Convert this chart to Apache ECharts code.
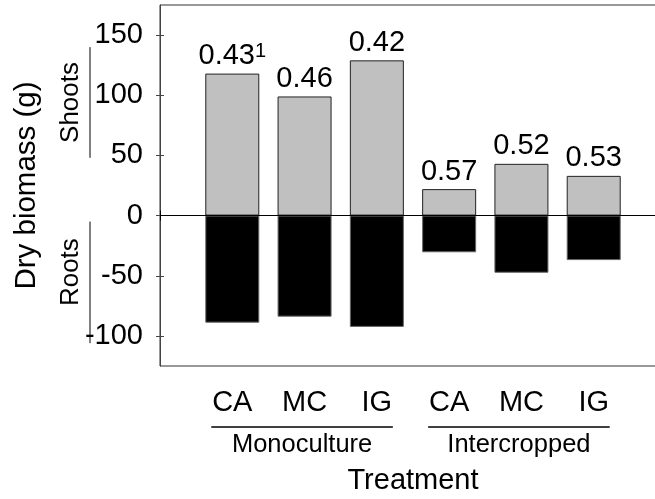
<!DOCTYPE html>
<html>
<head>
<meta charset="utf-8">
<script src="https://cdn.jsdelivr.net/npm/echarts@6/dist/echarts.min.js"></script>
<style>html,body{margin:0;padding:0;background:#fff}#c{width:655px;height:499px}</style>
</head>
<body>
<div id="c"></div>
<script>
const categories = ['CA', 'MC', 'IG', 'CA', 'MC', 'IG'];
const groups = ['Monoculture', 'Intercropped'];
const groupSize = 3;
const shoots = [118, 99, 129, 22, 43, 33];
const roots = [-89, -84, -92.5, -30.5, -47.5, -37];
const ratios = ['0.43', '0.46', '0.42', '0.57', '0.52', '0.53'];
const footnotes = ['1', '', '', '', '', ''];
const yTicks = [-100, -50, 0, 50, 100, 150];
const sideLabels = ['Shoots', 'Roots'];
const sideSpans = [[140, 48, 94], [-5, -106, -47]];

const FONT = 'Liberation Sans, Arial, sans-serif';
const chart = echarts.init(document.getElementById('c'));
const xData = [''].concat(categories, ['']);
const pad = a => [null].concat(a, [null]);

chart.setOption({
  animation: false,
  textStyle: { fontFamily: FONT },
  grid: { left: 160, top: 5, right: -11, bottom: 133, show: true, borderColor: '#333', borderWidth: 1,
          containLabel: false, outerBoundsMode: 'none' },
  xAxis: [{
    type: 'category', data: xData, boundaryGap: false,
    axisLine: { show: true, lineStyle: { color: '#000', width: 1 } },
    axisTick: { show: true, length: 5, interval: 0, lineStyle: { color: '#000' } },
    axisLabel: { interval: 0, fontSize: 29, color: '#000', margin: 22, fontFamily: FONT },
    splitLine: { show: false },
    name: 'Treatment', nameLocation: 'middle', nameGap: 100,
    nameTextStyle: { fontSize: 29, color: '#000', fontFamily: FONT }
  }, {
    type: 'category', data: xData, boundaryGap: false, position: 'bottom',
    axisLine: { show: false },
    axisTick: { show: true, inside: true, length: 5, interval: 0, lineStyle: { color: '#000' } },
    axisLabel: { show: false }, splitLine: { show: false }
  }],
  yAxis: [{
    type: 'value', min: -125, max: 175,
    axisLine: { show: true, lineStyle: { color: '#444' } },
    axisTick: { show: true, length: 4, customValues: yTicks, lineStyle: { color: '#444' } },
    axisLabel: { customValues: yTicks, fontSize: 29, color: '#000', margin: 17, fontFamily: FONT },
    splitLine: { show: false },
    name: 'Dry biomass (g)', nameLocation: 'middle', nameGap: 118,
    nameTextStyle: { fontSize: 29.5, color: '#000', fontFamily: FONT }
  }, {
    type: 'value', min: -125, max: 175, position: 'left',
    axisLine: { show: false },
    axisTick: { show: true, inside: true, length: 4, customValues: yTicks, lineStyle: { color: '#444' } },
    axisLabel: { show: false }, splitLine: { show: false }
  }],
  series: [{
    type: 'bar', name: 'Shoots', stack: 't', data: pad(shoots), barWidth: 54,
    itemStyle: { color: '#c0c0c0', borderColor: '#222', borderWidth: 1 },
    label: {
      show: true, position: 'top', distance: 3, color: '#000', fontSize: 29, fontFamily: FONT,
      formatter: p => {
        const i = p.dataIndex - 1;
        return ratios[i] + (footnotes[i] ? '{sup|' + footnotes[i] + '}' : '');
      },
      rich: { sup: { fontSize: 20, verticalAlign: 'top', color: '#000', fontFamily: FONT } }
    },
    markLine: {
      silent: true, symbol: 'none', data: [{ yAxis: 0 }],
      lineStyle: { color: '#000', width: 1, type: 'solid' }, label: { show: false }
    }
  }, {
    type: 'bar', name: 'Roots', stack: 't', data: pad(roots), barWidth: 54,
    itemStyle: { color: '#000', borderColor: '#666', borderWidth: 1 }
  }]
});

const px = i => chart.convertToPixel({ xAxisIndex: 0 }, i);
const py = v => chart.convertToPixel({ yAxisIndex: 0 }, v);
const axisX = px(0);
const axisY = py(-125);
const graphics = [];
groups.forEach((g, k) => {
  const first = k * groupSize + 1, last = first + groupSize - 1;
  const x1 = px(first) - 21, x2 = px(last) + 16;
  graphics.push({ type: 'line', shape: { x1: x1, y1: axisY + 61, x2: x2, y2: axisY + 61 },
    style: { stroke: '#000', lineWidth: 1.5 } });
  graphics.push({ type: 'text', x: (x1 + x2) / 2, y: axisY + 79,
    style: { text: g, font: '25.5px ' + FONT, align: 'center', verticalAlign: 'middle', fill: '#000' } });
});
sideLabels.forEach((s, k) => {
  const sp = sideSpans[k];
  graphics.push({ type: 'line', shape: { x1: axisX - 70, y1: py(sp[0]), x2: axisX - 70, y2: py(sp[1]) },
    style: { stroke: '#000', lineWidth: 1 } });
  graphics.push({ type: 'text', x: axisX - 89, y: py(sp[2]), rotation: Math.PI / 2,
    style: { text: s, font: '26px ' + FONT, align: 'center', verticalAlign: 'middle', fill: '#000' } });
});
chart.setOption({ graphic: graphics });
</script>
</body>
</html>
